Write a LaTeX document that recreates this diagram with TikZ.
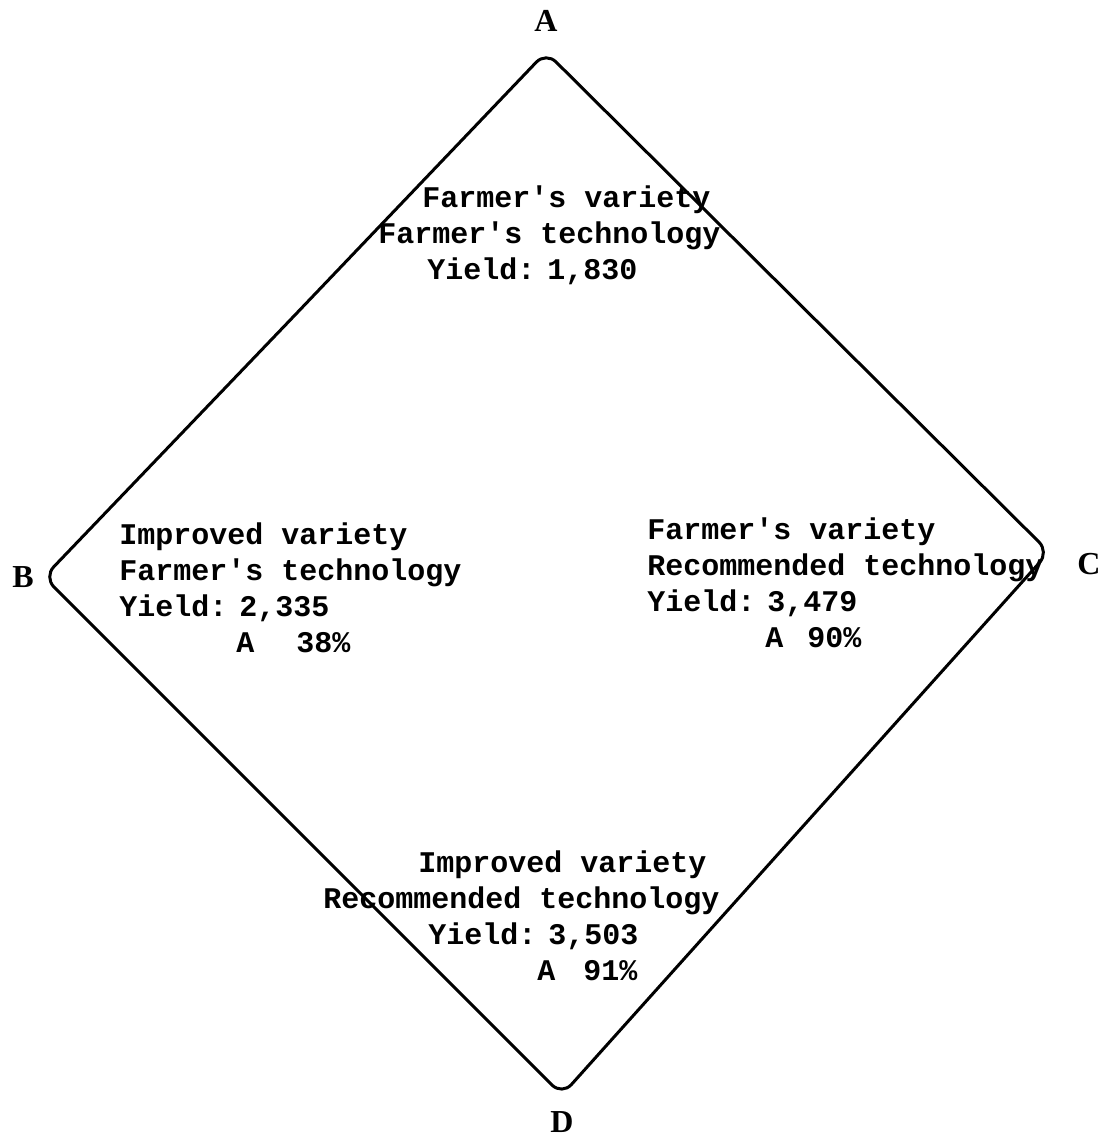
\documentclass[tikz,border=0pt]{standalone}
\usepackage{fontspec}
\setmonofont{Liberation Mono}
\newfontfamily\labelfont{Liberation Serif}
\usetikzlibrary{positioning}

\begin{document}
\begin{tikzpicture}[
    x=0.5pt, y=-0.5pt,
    edge/.style={draw, line width=1.5pt, rounded corners=7pt},
    cell/.style={anchor=north west, inner sep=0pt, align=left, font=\ttfamily\bfseries\fontsize{15}{18}\selectfont},
    corner/.style={inner sep=0pt, font=\labelfont\bfseries\fontsize{16}{19}\selectfont}
  ]
  \useasboundingbox (0,0) rectangle (1104,1138);

  % corners of the diamond
  \coordinate (ta) at (546,52);
  \coordinate (tc) at (1049,552);
  \coordinate (td) at (562,1095);
  \coordinate (tb) at (44,577);
  \coordinate (mab) at (295,315);
  \draw[edge] (mab) -- (ta) -- (tc) -- (td) -- (tb) -- cycle;

  \node[corner, above=10pt of ta] (la) {A};
  \node[corner, left=5pt of tb] (lb) {B};
  \node[corner, right=14pt of tc, yshift=-6pt] (lc) {C};
  \node[corner, below=8pt of td] (ld) {D};

  % the four cells
  \node[cell] (fvft) at (378,185) {\hspace*{22pt}Farmer's variety\\
    Farmer's technology\\
    \hspace*{24.5pt}Yield:\hspace{6pt}1,830};
  \node[cell] (ivft) at (119,522) {Improved variety\\
    Farmer's technology\\
    Yield:\hspace{6pt}2,335\\
    \hspace*{58.5pt}A\hspace*{21pt}38\%};
  \node[cell] (fvrt) at (647,517) {Farmer's variety\\
    Recommended technology\\
    Yield:\hspace{6pt}3,479\\
    \hspace*{59pt}A\hspace*{12pt}90\%};
  \node[cell] (ivrt) at (323,850) {\hspace*{47.5pt}Improved variety\\
    Recommended technology\\
    \hspace*{52.5pt}Yield:\hspace{6pt}3,503\\
    \hspace*{107pt}A\hspace*{14pt}91\%};
\end{tikzpicture}
\end{document}
